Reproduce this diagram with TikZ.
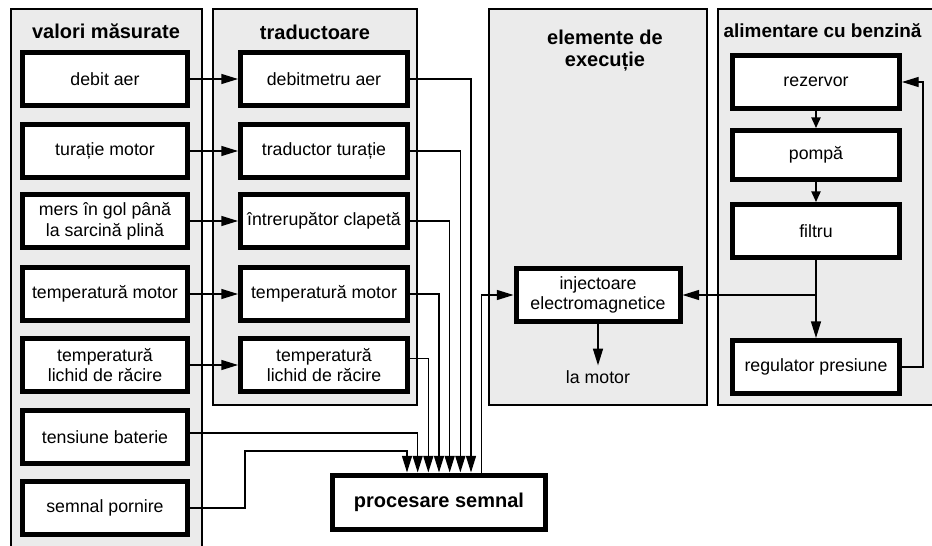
\documentclass[tikz,border=0pt]{standalone}
\usepackage{fontspec}
\setmainfont{Liberation Sans}
\usetikzlibrary{arrows.meta}

\begin{document}
\begin{tikzpicture}[x=0.75pt,y=-0.75pt,line width=1pt,>={Triangle[length=12.5pt,width=7.5pt]}]
\tikzset{
  pnl/.style={draw,line width=1.5pt,fill=black!8},
  blk/.style={draw,line width=3.75pt,fill=white,minimum width=123.75pt,
    minimum height=39.75pt,inner sep=1.5pt,align=center,
    font=\fontsize{13.3}{15.5}\selectfont},
  wblk/.style={blk,minimum width=125.25pt},
  ttl/.style={font=\fontsize{15}{16.5}\selectfont\bfseries,align=center},
  sarr/.style={->,>={Triangle[length=8pt,width=7pt]}}}
\useasboundingbox (0,0) rectangle (932,546);
\clip (0,0) rectangle (932,546);
\fill[white] (0,0) rectangle (932,546);
% ---------- panels ----------
\draw[pnl] (11,9) rectangle (202,570);
\draw[pnl] (213,9) rectangle (417,405);
\draw[pnl] (489,9) rectangle (707,405);
\draw[pnl] (718,9) rectangle (950,405);
\node[ttl] (tval) at (106,31) {valori măsurate};
\node[ttl] (ttrad) at (315,32) {traductoare};
\node[ttl] (texe) at (605,51) {elemente de\\execuție};
\node[ttl,font=\fontsize{14.2}{16}\selectfont\bfseries,anchor=west,inner sep=0pt]
  (talim) at (723,31) {alimentare cu benzină};
% ---------- measured values ----------
\node[blk] (m1) at (105,79) {debit aer};
\node[blk] (m2) at (105,151) {turație motor};
\node[blk] (m3) at (105,221) {mers în gol până\\la sarcină plină};
\node[blk] (m4) at (105,294) {temperatură motor};
\node[blk] (m5) at (105,365) {temperatură\\lichid de răcire};
\node[blk] (m6) at (105,437) {tensiune baterie};
\node[blk] (m7) at (105,508) {semnal pornire};
% ---------- transducers ----------
\node[wblk] (t1) at (324,79) {debitmetru aer};
\node[wblk] (t2) at (324,151) {traductor turație};
\node[wblk] (t3) at (324,221) {întrerupător clapetă};
\node[wblk] (t4) at (324,294) {temperatură motor};
\node[wblk] (t5) at (324,365) {temperatură\\lichid de răcire};
% ---------- actuators, processing ----------
\node[blk,minimum width=123pt,minimum height=40pt] (inj) at (598,295)
  {injectoare\\electromagnetice};
\node[font=\fontsize{13.3}{15.5}\selectfont] (lam) at (598,377) {la motor};
\node[blk,ttl,minimum width=159.75pt,minimum height=40.5pt] (proc) at (439,502)
  {procesare semnal};
% ---------- fuel supply ----------
\node[wblk] (rez) at (816,82) {rezervor};
\node[wblk,minimum height=36.75pt] (pom) at (816,155) {pompă};
\node[wblk] (fil) at (816,231) {filtru};
\node[wblk] (reg) at (816,367) {regulator presiune};
% ---------- connectors ----------
\foreach \i in {1,...,5}
  \draw[->] (m\i.east) -- (t\i.west);
\foreach \n/\dx in {t1/24,t2/16,t3/8,t4/0}
  \draw[->] (\n.east) -| ([xshift=\dx pt]proc.north);
\draw[->] ([yshift=5pt]t5.east) -| ([xshift=-8pt]proc.north);
\draw[->] ([yshift=3pt]m6.east) -| ([xshift=-16pt]proc.north);
\coordinate (sp) at (245,451);
\draw[->] (m7.east) -| (sp) -| ([xshift=-24pt]proc.north);
\draw[->] ([xshift=32pt]proc.north) |- (inj.west);
\draw[->] (inj.south) -- (lam.north);
\draw[sarr] (rez) -- (pom);
\draw[sarr] (pom) -- (fil);
\draw[->] (fil) -- (reg);
\draw[->] (fil.south |- inj.east) -- (inj.east);
\coordinate (rt) at (923,82);
\draw[->] (reg.east) -| (rt) -- (rez.east);
\end{tikzpicture}
\end{document}
